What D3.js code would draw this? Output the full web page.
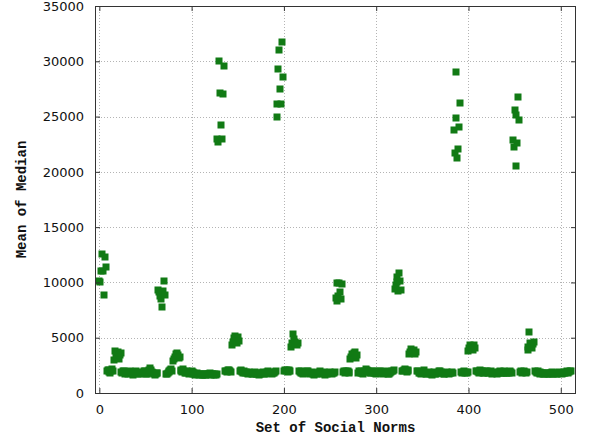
<!DOCTYPE html>
<html>
<head>
<meta charset="utf-8">
<script src="https://cdn.jsdelivr.net/npm/d3@7"></script>
<style>
  html, body { margin: 0; padding: 0; background: #fff; }
  svg { display: block; }
</style>
</head>
<body>
<svg id="chart" width="590" height="440"></svg>
<script>
// ---- data: mean of median for each set of social norms (index = set number) ----
const block0 = [
  10100, 10050, 11050, 12600, 11000, 8900, 12300, 11400,
  1950, 2100, 1900, 2050, 1850, 2000, 2150, 1950,
  3000, 3800, 3500, 3300, 3700, 3100, 3400, 3600,
  1900, 1800, 1950, 2000, 1750, 1850, 1900, 1700, 1800, 1950,
  1850, 1900, 1750, 1650, 1800, 1900, 2000, 1850, 1700, 1800,
  1750, 1900, 1850, 1800, 1950, 2000, 1800, 1750, 1700, 1850,
  2050, 2250, 2100, 1900, 1800, 1750, 1650, 1700, 1800, 1850
];
const block1 = [
  9300, 9100, 8800, 8500, 7800, 9200, 10100, 8900,
  1700, 1750, 1850, 1900, 1950, 2100, 2200, 2000,
  2900, 3100, 3300, 3500, 3600, 3400, 3200, 3300,
  2100, 2000, 1900, 2150, 1950, 1850, 1800, 2000, 1900, 1750,
  1850, 1800, 2000, 1900, 1700, 1800, 1650, 1750, 1800, 1700,
  1650, 1750, 1700, 1600, 1650, 1700, 1750, 1650, 1600, 1700,
  1750, 1700, 1800, 1650, 1700, 1750, 1600, 1700, 1650, 1750
];
const block2 = [
  22960, 22690, 30020, 27120, 24230, 23000, 27000, 29540,
  1950, 2000, 1900, 2050, 2100, 1950, 2000, 1900,
  4300, 4600, 5000, 5200, 4800, 4500, 5100, 4700,
  2000, 2100, 1950, 1900, 1850, 2000, 1800, 1900, 1850, 1750,
  1900, 1800, 1850, 1700, 1750, 1800, 1850, 1900, 1750, 1700,
  1800, 1650, 1750, 1850, 1800, 1900, 1750, 1700, 1850, 1800,
  1900, 1950, 1850, 1800, 1900, 1750, 1800, 1850, 1900, 1950
];
const block3 = [
  26100, 24950, 29330, 31050, 27520, 26160, 31700, 28570,
  2000, 2100, 1950, 2050, 1900, 2000, 2100, 1950,
  4200, 4500, 5300, 4900, 4600, 4400, 4300, 4500,
  1950, 1900, 1850, 2000, 1800, 1750, 1900, 1850, 1800, 2000,
  1950, 1850, 1750, 1800, 1900, 1700, 1800, 1650, 1750, 1850,
  1700, 1800, 1900, 2000, 1850, 1750, 1800, 1900, 1700, 1650,
  1800, 1750, 1850, 1800, 1900, 1850, 1750, 1800, 1850, 1900
];
const block4 = [
  8600, 8300, 9950, 8800, 9950, 9100, 8500, 9900,
  1900, 1950, 1850, 2000, 1900, 1950, 1850, 1900,
  3100, 3300, 3500, 3400, 3600, 3700, 3200, 3400,
  1850, 2000, 1900, 1800, 1950, 1850, 1750, 1900, 2000, 2150,
  2100, 1950, 1900, 1850, 1800, 1950, 2000, 1900, 1850, 1800,
  1750, 1900, 1850, 2000, 1950, 1800, 1850, 1750, 1900, 1800,
  1850, 1950, 1800, 1750, 1700, 1850, 1900, 2000, 1950, 2100
];
const block5 = [
  9440, 9800, 10040, 10490, 9200, 10850, 10150, 9300,
  2000, 1950, 2100, 2200, 2050, 1900, 2000, 2100,
  3500, 3700, 4000, 3800, 3600, 3900, 3500, 3700,
  2000, 1950, 1850, 1900, 1800, 1750, 1900, 1850, 2100, 1800,
  1750, 1700, 1850, 1900, 1800, 1750, 1650, 1800, 1850, 1900,
  1750, 1700, 1800, 1850, 1950, 2000, 1900, 1800, 1850, 1750,
  1700, 1800, 1850, 1900, 1800, 1750, 1850, 1800, 1900, 1850
];
const block6 = [
  23750, 21700, 29020, 24830, 21250, 22060, 24050, 26250,
  1900, 1850, 1900, 1950, 1850, 1900, 1850, 1900,
  3800, 4100, 4300, 4000, 4200, 3900, 4300, 4100,
  1950, 2000, 1900, 1850, 2050, 1950, 1900, 2000, 1850, 1800,
  1950, 1900, 2000, 1850, 1800, 1900, 1950, 1800, 1750, 1850,
  1900, 1800, 1850, 1750, 1800, 1900, 1950, 1850, 1800, 1900,
  1850, 1950, 1900, 1850, 1800, 1900, 1850, 1950, 1900, 1850
];
const block7 = [
  22850, 22240, 25560, 25170, 20500, 22600, 26760, 24660,
  1900, 1950, 1850, 1900, 1950, 1900, 1850, 1900,
  3900, 4200, 5500, 4500, 4300, 4100, 4400, 4600,
  2000, 1900, 1850, 1950, 1800, 1750, 1900, 1850, 1800, 1750,
  1700, 1800, 1850, 1750, 1800, 1700, 1750, 1850, 1800, 1900,
  1750, 1800, 1850, 1700, 1750, 1800, 1900, 1850, 1800, 1750,
  1850, 1900, 1800, 1850, 1900, 1950, 1850, 1900, 2000, 1950
];
const xTicks = [0, 100, 200, 300, 400, 500];
const yTicks = [0, 5000, 10000, 15000, 20000, 25000, 30000, 35000];
const xTitle = "Set of Social Norms";
const yTitle = "Mean of Median";

(function () {
  const meanOfMedian = [].concat(block0, block1, block2, block3, block4, block5, block6, block7);
  const points = meanOfMedian.map((v, i) => ({ set: i, value: v }));

  // ---- layout ----
  const pl = 95, pr = 576, pt = 6, pb = 393;
  const svg = d3.select("#chart");

  const x = d3.scaleLinear().domain([-4.7, 516.5]).range([pl, pr]);
  const y = d3.scaleLinear().domain([0, 35000]).range([pb, pt]);

  // grid
  const grid = svg.append("g").attr("stroke", "#b4b4b4").attr("stroke-width", 1)
    .attr("stroke-dasharray", "1,2");
  grid.selectAll("line.gx").data(xTicks).join("line").attr("class", "gx")
    .attr("x1", d => Math.round(x(d)) + 0.5).attr("x2", d => Math.round(x(d)) + 0.5)
    .attr("y1", pt).attr("y2", pb);
  grid.selectAll("line.gy").data(yTicks.filter(d => d > 0 && d < 35000)).join("line").attr("class", "gy")
    .attr("x1", pl).attr("x2", pr)
    .attr("y1", d => Math.round(y(d)) + 0.5).attr("y2", d => Math.round(y(d)) + 0.5);

  // points
  svg.append("g").attr("fill", "#117a14")
    .selectAll("rect").data(points).join("rect")
    .attr("x", d => Math.round(x(d.set)) - 3.5)
    .attr("y", d => Math.round(y(d.value)) - 3.5)
    .attr("width", 7).attr("height", 7);

  // axes (ticks inward, mirrored)
  const fontTick = "'DejaVu Sans', sans-serif";
  const fmt = d3.format("d");
  const axB = svg.append("g").attr("transform", `translate(0,${pb})`)
    .call(d3.axisBottom(x).tickValues(xTicks).tickFormat(fmt).tickSizeInner(-5).tickSizeOuter(0).tickPadding(12));
  const axT = svg.append("g").attr("transform", `translate(0,${pt})`)
    .call(d3.axisTop(x).tickValues(xTicks).tickSizeInner(-5).tickSizeOuter(0).tickFormat(""));
  const axL = svg.append("g").attr("transform", `translate(${pl},0)`)
    .call(d3.axisLeft(y).tickValues(yTicks).tickFormat(fmt).tickSizeInner(-5).tickSizeOuter(0).tickPadding(11));
  const axR = svg.append("g").attr("transform", `translate(${pr},0)`)
    .call(d3.axisRight(y).tickValues(yTicks).tickSizeInner(-5).tickSizeOuter(0).tickFormat(""));
  [axB, axT, axL, axR].forEach(a => {
    a.select(".domain").remove();
    a.selectAll(".tick line").attr("stroke", "#333");
    a.selectAll("text").attr("font-family", fontTick).attr("font-size", 13).attr("fill", "#111");
  });

  // border
  svg.append("rect").attr("x", pl + 0.5).attr("y", pt + 0.5)
    .attr("width", pr - pl - 1).attr("height", pb - pt)
    .attr("fill", "none").attr("stroke", "#333").attr("stroke-width", 1);

  // titles
  svg.append("text").attr("x", (pl + pr) / 2).attr("y", 432)
    .attr("text-anchor", "middle").attr("font-family", "'Liberation Mono', monospace")
    .attr("font-size", 14).attr("font-weight", "bold").attr("fill", "#111").text(xTitle);
  svg.append("text").attr("transform", `translate(26,${(pt + pb) / 2}) rotate(-90)`)
    .attr("text-anchor", "middle").attr("font-family", "'Liberation Mono', monospace")
    .attr("font-size", 14).attr("font-weight", "bold").attr("fill", "#111").text(yTitle);
})();
</script>
</body>
</html>
